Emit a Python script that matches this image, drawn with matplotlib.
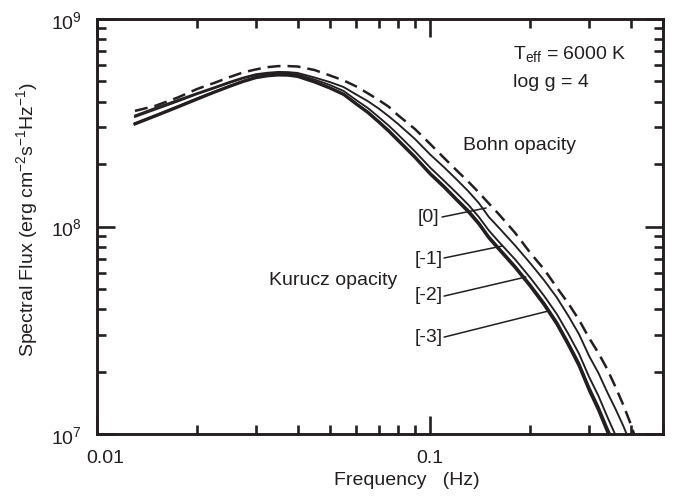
import matplotlib
matplotlib.use("Agg")
import numpy as np
import matplotlib.pyplot as plt
from matplotlib.ticker import LogLocator, NullFormatter, FixedLocator, FixedFormatter
from matplotlib.transforms import ScaledTranslation

plt.rcParams['font.family'] = ['Liberation Sans', 'DejaVu Sans']
plt.rcParams['mathtext.fontset'] = 'custom'
plt.rcParams['mathtext.rm'] = 'Liberation Sans'
plt.rcParams['mathtext.it'] = 'Liberation Sans:italic'
plt.rcParams['mathtext.bf'] = 'Liberation Sans:bold'

INK = '#231f20'
FS = 14

# Frequency grid (Hz)
freq = [0.013, 0.015, 0.0175, 0.02, 0.0225, 0.025, 0.0275, 0.03, 0.0325, 0.035,
        0.0375, 0.04, 0.045, 0.05, 0.055, 0.06, 0.065, 0.07, 0.075, 0.08,
        0.09, 0.1, 0.11, 0.12, 0.13, 0.14, 0.15, 0.16, 0.18, 0.2,
        0.22, 0.24, 0.26, 0.28, 0.3, 0.32, 0.34, 0.36, 0.38, 0.4, 0.42]

# log10 of spectral flux (erg cm^-2 s^-1 Hz^-1), Kurucz opacity, [M/H] = -3, -2, -1, 0
logflux_m3 = [8.494, 8.533, 8.576, 8.614, 8.647, 8.675, 8.699, 8.717, 8.726, 8.730,
              8.729, 8.723, 8.696, 8.667, 8.636, 8.590, 8.549, 8.504, 8.460, 8.415,
              8.333, 8.253, 8.190, 8.128, 8.072, 8.012, 7.945, 7.894, 7.802, 7.711,
              7.622, 7.530, 7.429, 7.328, 7.212, 7.116, 7.014, 6.923]
logflux_m2 = [8.498, 8.537, 8.580, 8.618, 8.650, 8.678, 8.702, 8.720, 8.729, 8.733,
              8.732, 8.726, 8.699, 8.670, 8.640, 8.594, 8.554, 8.509, 8.466, 8.421,
              8.339, 8.259, 8.197, 8.135, 8.080, 8.020, 7.953, 7.902, 7.810, 7.720,
              7.632, 7.541, 7.441, 7.342, 7.227, 7.132, 7.031, 6.941]
logflux_m1 = [8.528, 8.564, 8.603, 8.638, 8.666, 8.692, 8.714, 8.729, 8.736, 8.740,
              8.739, 8.733, 8.708, 8.682, 8.653, 8.609, 8.571, 8.528, 8.487, 8.444,
              8.362, 8.284, 8.221, 8.162, 8.106, 8.046, 7.981, 7.930, 7.841, 7.752,
              7.665, 7.578, 7.482, 7.386, 7.275, 7.184, 7.084, 6.995, 6.911]
logflux_0 = [8.535, 8.572, 8.610, 8.643, 8.671, 8.697, 8.718, 8.734, 8.741, 8.745,
             8.744, 8.740, 8.718, 8.696, 8.672, 8.636, 8.604, 8.569, 8.532, 8.495,
             8.422, 8.347, 8.286, 8.227, 8.171, 8.113, 8.046, 7.998, 7.908, 7.822,
             7.740, 7.658, 7.569, 7.480, 7.376, 7.294, 7.202, 7.121, 7.039, 6.952]
# Bohn opacity (dashed)
logflux_bohn = [8.557, 8.582, 8.622, 8.663, 8.692, 8.720, 8.743, 8.757, 8.768, 8.773,
                8.773, 8.771, 8.754, 8.728, 8.704, 8.675, 8.642, 8.610, 8.578, 8.537,
                8.470, 8.398, 8.331, 8.271, 8.217, 8.164, 8.111, 8.063, 7.969, 7.872,
                7.793, 7.706, 7.629, 7.549, 7.463, 7.390, 7.313, 7.227, 7.140, 7.048, 6.947]

labels = ['[0]', '[-1]', '[-2]', '[-3]']
# label text anchor (axes fraction); leader start / end (data)
label_pos = [(0.567, 0.524), (0.562, 0.4217), (0.562, 0.337), (0.562, 0.235)]
leader_start = [(0.1086, 1.111e8), (0.1101, 7.05e7), (0.1101, 4.62e7), (0.1101, 2.93e7)]
leader_end = [(0.1472, 1.228e8), (0.1643, 8.05e7), (0.1938, 5.71e7), (0.2272, 3.92e7)]

fig = plt.figure(figsize=(6.75, 5.02), dpi=100)
ax = fig.add_axes([97/675, 1 - 435/502, 566/675, 415/502])


def draw(lf, **kw):
    ax.plot(freq[:len(lf)], np.power(10.0, lf), color=INK, **kw)


draw(logflux_m3, lw=2.2, solid_joinstyle='round')
draw(logflux_m2, lw=1.5, solid_joinstyle='round')
draw(logflux_m1, lw=1.35, solid_joinstyle='round')
draw(logflux_0, lw=1.35, solid_joinstyle='round')
draw(logflux_bohn, lw=1.8, linestyle=(0, (5.2, 2.8)))

ax.set_xscale('log')
ax.set_yscale('log')
ax.set_xlim(0.01, 0.5)
ax.set_ylim(1e7, 1e9)

ax.xaxis.set_major_locator(FixedLocator([0.01, 0.1]))
ax.xaxis.set_major_formatter(FixedFormatter(['0.01', '0.1']))
ax.xaxis.set_minor_locator(LogLocator(base=10, subs=range(2, 10)))
ax.xaxis.set_minor_formatter(NullFormatter())
ax.yaxis.set_major_locator(LogLocator(base=10, numticks=10))
ax.yaxis.set_minor_locator(LogLocator(base=10, subs=range(2, 10), numticks=20))
ax.yaxis.set_minor_formatter(NullFormatter())

for s in ax.spines.values():
    s.set_linewidth(2.1)
    s.set_color(INK)
ax.tick_params(which='both', direction='in', top=True, right=True, color=INK,
               labelcolor=INK, labelsize=FS, pad=11)
ax.tick_params(which='major', length=13, width=1.9)
ax.tick_params(which='minor', length=6.5, width=1.9)

# the "0.01" label sits a little to the right of its tick in the original
first = ax.xaxis.get_major_ticks()[0]
first.label1.set_transform(first.label1.get_transform() +
                           ScaledTranslation(0.08, 0, fig.dpi_scale_trans))

fig.text(407/675, 1 - 481/502, 'Frequency   (Hz)', ha='center', va='center',
         fontsize=FS, color=INK)
fig.text(27/675, 1 - 220/502,
         'Spectral Flux (erg cm$^{-2}$s$^{-1}$Hz$^{-1}$)', rotation=90,
         ha='center', va='center', fontsize=FS, color=INK)

ax.text(0.735, 0.906, 'T$_{\\mathrm{eff}}$ = 6000 K', transform=ax.transAxes,
        ha='left', va='baseline', fontsize=FS, color=INK)
ax.text(0.735, 0.8386, 'log g = 4', transform=ax.transAxes,
        ha='left', va='baseline', fontsize=FS, color=INK)
ax.text(0.6466, 0.6867, 'Bohn opacity', transform=ax.transAxes,
        ha='left', va='baseline', fontsize=FS, color=INK)
ax.text(0.304, 0.3614, 'Kurucz opacity', transform=ax.transAxes,
        ha='left', va='baseline', fontsize=FS, color=INK)

for lab, pos, st, en in zip(labels, label_pos, leader_start, leader_end):
    ax.text(pos[0], pos[1], lab, transform=ax.transAxes, ha='left', va='center',
            fontsize=FS, color=INK)
    ax.annotate('', xy=en, xytext=st, xycoords='data', textcoords='data',
                arrowprops=dict(arrowstyle='-', lw=1.1, color=INK,
                                shrinkA=0, shrinkB=0))

fig.savefig('out.png', dpi=100)
